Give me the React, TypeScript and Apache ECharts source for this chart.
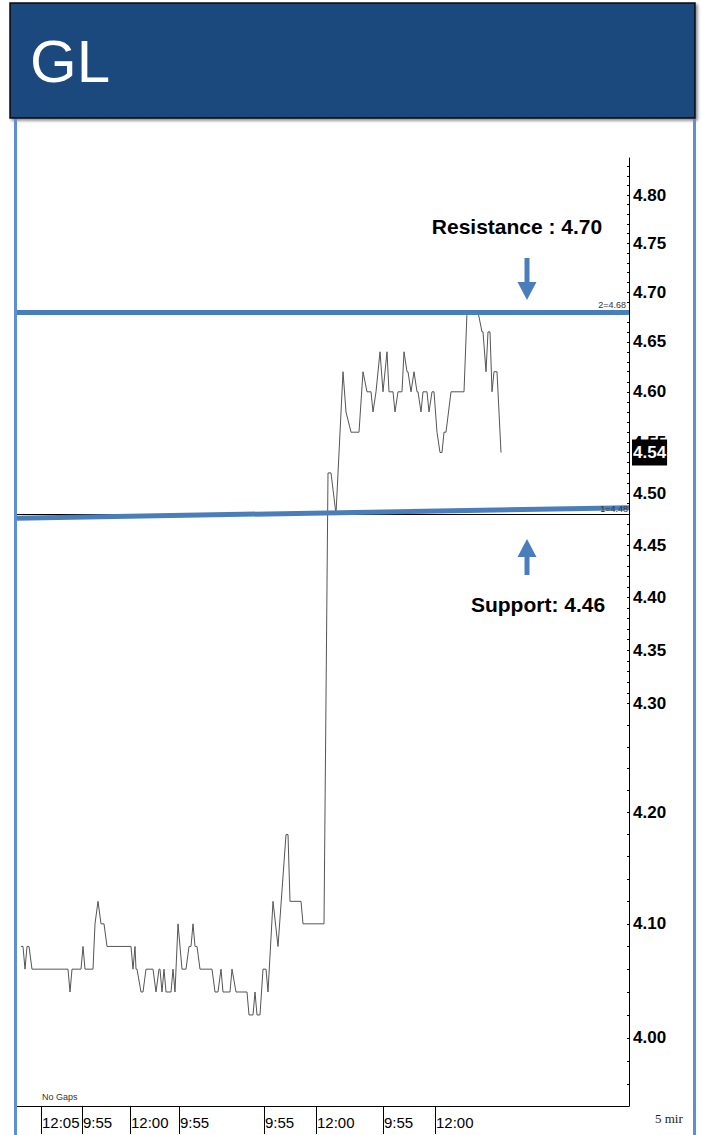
import React, { useEffect, useRef } from "react";
import * as echarts from "echarts";

// Price path: vertex positions in 5-minute bar units and the traded price at each vertex
const barPos = [
  0, 1, 2, 3, 4, 5.5, 23.5, 24.5, 25.5, 30, 31, 32, 36, 37, 38.5, 40, 41.5, 43,
  55, 56, 57, 57.5, 58, 60, 61, 62.5, 66, 67.5, 69, 69.5, 70.5, 71.5, 72.5, 75,
  76, 77, 78.5, 80.5, 82.5, 84, 85, 86, 87, 88, 89.5, 95.5, 97, 98.5, 100, 101,
  104.5, 105.5, 107.5, 113, 114, 116, 117, 118, 119.5, 121, 122.5, 123.5, 126,
  128.5, 132.5, 133.5, 134.5, 140, 141, 151.5, 153.5, 155, 157.5, 161, 162.5,
  165, 169, 171, 173, 175, 176, 177.5, 179.5, 181, 183, 184, 186, 187, 188.5,
  190.5, 191.5, 193, 193.5, 195, 196.5, 198, 198.5, 200, 201, 203, 204, 205.5,
  206.5, 208, 209.5, 210.5, 211.5, 212.5, 215, 221.5, 223, 228.5, 230.5, 231,
  232.5, 233.5, 234.5, 235.5, 236.5, 238, 240,
];
const price = [
  4.08, 4.08, 4.06, 4.08, 4.08, 4.06, 4.06, 4.04, 4.06, 4.06, 4.08, 4.06, 4.06,
  4.1, 4.12, 4.1, 4.1, 4.08, 4.08, 4.06, 4.08, 4.06, 4.06, 4.04, 4.04, 4.06,
  4.06, 4.04, 4.06, 4.06, 4.04, 4.06, 4.04, 4.04, 4.06, 4.04, 4.1, 4.06, 4.06,
  4.08, 4.08, 4.1, 4.08, 4.08, 4.06, 4.06, 4.04, 4.04, 4.06, 4.04, 4.04, 4.06,
  4.04, 4.04, 4.02, 4.02, 4.04, 4.02, 4.02, 4.06, 4.06, 4.04, 4.12, 4.08, 4.18,
  4.18, 4.12, 4.12, 4.1, 4.1, 4.52, 4.52, 4.48, 4.62, 4.58, 4.56, 4.56, 4.62,
  4.6, 4.6, 4.58, 4.6, 4.64, 4.6, 4.64, 4.6, 4.6, 4.58, 4.6, 4.6, 4.64, 4.62,
  4.62, 4.6, 4.62, 4.6, 4.6, 4.58, 4.6, 4.6, 4.58, 4.6, 4.6, 4.56, 4.54, 4.54,
  4.56, 4.56, 4.6, 4.6, 4.68, 4.68, 4.66, 4.66, 4.62, 4.66, 4.66, 4.6, 4.62,
  4.62, 4.54,
];

// Axis values
const yLabelValues = [4.8, 4.75, 4.7, 4.65, 4.6, 4.55, 4.5, 4.45, 4.4, 4.35, 4.3, 4.2, 4.1, 4.0];
const timeTickPos = [10, 30.5, 54.5, 79, 121.5, 147.5, 181, 207];
const timeLabels = ["12:05", "9:55", "12:00", "9:55", "9:55", "12:00", "9:55", "12:00"];
const yMin = 3.9416;
const yMax = 4.8386;
const xMin = -2.5;
const xMax = 304;

// Levels
const resistanceLevel = 4.68;
const supportLine = [4.476, 4.486];
const supportLevel = 4.48;
const lastPrice = 4.54;

const NARROW = "'Liberation Sans Narrow', 'Arial Narrow', 'Liberation Sans', Arial, sans-serif";
const ARIAL = "'Liberation Sans', Arial, Helvetica, sans-serif";
const BLUE = "#4A7EBB";

function tickValues(): number[] {
  const out: number[] = [];
  for (let i = 396; i <= 430; i += 2) out.push(Math.log(i / 100));
  for (let i = 431; i <= 483; i += 1) out.push(Math.log(i / 100));
  return out;
}

export default function App() {
  const ref = useRef<HTMLDivElement>(null);

  useEffect(() => {
    if (!ref.current) return;
    const chart = echarts.init(ref.current, undefined, { renderer: "svg" });
    const lnLabels = yLabelValues.map((v) => Math.log(v));
    const seriesData = barPos.map((b, i) => [b, Math.log(price[i])]);

    chart.setOption({
      animation: false,
      backgroundColor: "#fff",
      grid: {
        left: 16,
        right: 73,
        top: 158,
        bottom: 29,
        containLabel: false,
        outerBoundsMode: "none",
      },
      xAxis: {
        type: "value",
        min: xMin,
        max: xMax,
        splitLine: { show: false },
        axisLine: { show: true, onZero: false, lineStyle: { color: "#000", width: 1 } },
        axisTick: {
          show: true,
          customValues: timeTickPos,
          length: 28,
          lineStyle: { color: "#000", width: 1 },
        },
        axisLabel: {
          show: true,
          customValues: timeTickPos,
          formatter: (v: number) => {
            const i = timeTickPos.findIndex((t) => Math.abs(t - v) < 0.01);
            return i >= 0 ? timeLabels[i] : "";
          },
          align: "left",
          margin: 9,
          padding: [0, 0, 0, 1],
          fontFamily: NARROW,
          fontSize: 15,
          color: "#000",
          hideOverlap: false,
          showMinLabel: true,
          showMaxLabel: true,
        },
      },
      yAxis: {
        type: "value",
        position: "right",
        min: Math.log(yMin),
        max: Math.log(yMax),
        splitLine: { show: false },
        axisLine: { show: true, onZero: false, lineStyle: { color: "#000", width: 1 } },
        axisTick: {
          show: true,
          inside: true,
          customValues: tickValues(),
          length: 2,
          lineStyle: { color: "#000" },
        },
        axisLabel: {
          show: true,
          customValues: lnLabels,
          formatter: (v: number) => Math.exp(v).toFixed(2),
          margin: 4,
          fontFamily: NARROW,
          fontWeight: "bold",
          fontSize: 17,
          color: "#000",
          hideOverlap: false,
          showMinLabel: true,
          showMaxLabel: true,
        },
      },
      series: [
        {
          type: "line",
          data: seriesData,
          showSymbol: false,
          symbol: "none",
          lineStyle: { color: "#555555", width: 1 },
          z: 2,
          markLine: {
            silent: true,
            symbol: ["none", "none"],
            precision: 10,
            animation: false,
            data: [
              {
                yAxis: Math.log(supportLevel),
                lineStyle: { color: "#000", width: 1, type: "solid" },
                label: {
                  show: true,
                  position: "insideEndTop",
                  formatter: "1=4.48",
                  fontSize: 9,
                  fontFamily: NARROW,
                  color: "#333",
                  distance: 1,
                },
              },
              [
                {
                  coord: [xMin, Math.log(supportLine[0])],
                  lineStyle: { color: BLUE, width: 5, type: "solid" },
                  label: { show: false },
                },
                { coord: [xMax, Math.log(supportLine[1])] },
              ],
              {
                yAxis: Math.log(resistanceLevel),
                lineStyle: { color: BLUE, width: 5, type: "solid" },
                label: {
                  show: true,
                  position: "insideEndTop",
                  formatter: "2=4.68",
                  fontSize: 9,
                  fontFamily: NARROW,
                  color: "#333",
                  distance: 3,
                },
              },
              {
                yAxis: Math.log(lastPrice),
                lineStyle: { color: "rgba(0,0,0,0)", width: 0 },
                label: {
                  show: true,
                  position: "end",
                  formatter: lastPrice.toFixed(2),
                  distance: 3,
                  backgroundColor: "#000",
                  color: "#fff",
                  fontFamily: NARROW,
                  fontWeight: "bold",
                  fontSize: 17,
                  padding: [5, 1, 4, 1],
                },
              },
            ],
          },
        },
      ],
      graphic: [
        {
          type: "rect",
          shape: { x: 10, y: 3, width: 685, height: 115 },
          style: {
            fill: "#1F497D",
            stroke: "#0a0a0a",
            lineWidth: 1.5,
            shadowBlur: 3,
            shadowOffsetX: 2,
            shadowOffsetY: 2,
            shadowColor: "rgba(0,0,0,0.45)",
          },
          z: 10,
        },
        {
          type: "text",
          x: 30,
          y: 61,
          style: {
            text: "GL",
            fill: "#fff",
            font: `60px ${ARIAL}`,
            align: "left",
            verticalAlign: "middle",
          },
          z: 11,
        },
        {
          type: "line",
          shape: { x1: 15.5, y1: 119, x2: 15.5, y2: 1135 },
          style: { stroke: "#5B8FD6", lineWidth: 3 },
          z: 10,
        },
        {
          type: "line",
          shape: { x1: 694.5, y1: 119, x2: 694.5, y2: 1135 },
          style: { stroke: "#5B8FD6", lineWidth: 3 },
          z: 10,
        },
        {
          type: "text",
          x: 517,
          y: 226,
          style: {
            text: "Resistance : 4.70",
            fill: "#000",
            font: `bold 21px ${ARIAL}`,
            align: "center",
            verticalAlign: "middle",
          },
          z: 10,
        },
        {
          type: "text",
          x: 538,
          y: 604,
          style: {
            text: "Support: 4.46",
            fill: "#000",
            font: `bold 21px ${ARIAL}`,
            align: "center",
            verticalAlign: "middle",
          },
          z: 10,
        },
        {
          type: "rect",
          shape: { x: 524.5, y: 258, width: 5, height: 25 },
          style: { fill: BLUE },
          z: 10,
        },
        {
          type: "polygon",
          shape: { points: [[517.5, 282], [536.5, 282], [527, 300]] },
          style: { fill: BLUE },
          z: 10,
        },
        {
          type: "polygon",
          shape: { points: [[527, 539], [536.5, 557], [517.5, 557]] },
          style: { fill: BLUE },
          z: 10,
        },
        {
          type: "rect",
          shape: { x: 524.5, y: 556, width: 5, height: 19 },
          style: { fill: BLUE },
          z: 10,
        },
        {
          type: "text",
          x: 42,
          y: 1097,
          style: {
            text: "No Gaps",
            fill: "#333",
            font: `9px ${NARROW}`,
            align: "left",
            verticalAlign: "middle",
          },
          z: 10,
        },
        {
          type: "text",
          x: 655,
          y: 1118,
          style: {
            text: "5 mir",
            fill: "#222",
            font: `13px 'Liberation Serif', 'Times New Roman', serif`,
            align: "left",
            verticalAlign: "middle",
          },
          z: 10,
        },
      ],
    });

    return () => chart.dispose();
  }, []);

  return (
    <div
      ref={ref}
      style={{ position: "absolute", left: 0, top: 0, width: 702, height: 1135, background: "#fff" }}
    />
  );
}
